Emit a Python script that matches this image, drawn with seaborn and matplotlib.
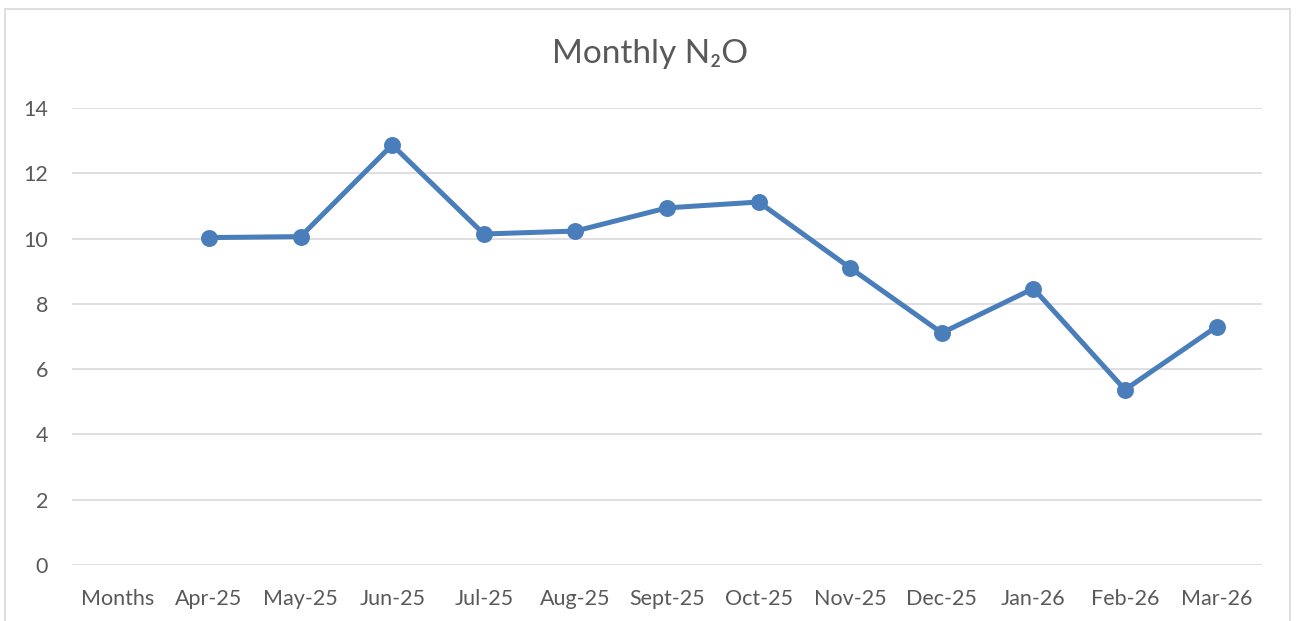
import matplotlib
matplotlib.use("Agg")
import matplotlib.pyplot as plt
from matplotlib.patches import Rectangle
import numpy as np
import pandas as pd
import seaborn as sns

categories = ["Months", "Apr-25", "May-25", "Jun-25", "Jul-25", "Aug-25", "Sept-25",
              "Oct-25", "Nov-25", "Dec-25", "Jan-26", "Feb-26", "Mar-26"]
values = [np.nan, 10.03, 10.06, 12.87, 10.14, 10.23, 10.94, 11.12, 9.10, 7.11, 8.47, 5.37, 7.30]
y_ticks = [0, 2, 4, 6, 8, 10, 12, 14]
title = "Monthly N\u2082O"

df = pd.DataFrame({"month": categories, "value": values})

sns.set_theme(style="white")
plt.rcParams["font.family"] = ["Lato", "DejaVu Sans"]

W, H = 1298, 621
fig = plt.figure(figsize=(W / 100, H / 100), dpi=100)
ax = fig.add_axes([71.6 / W, 1 - 565 / H, (1262.4 - 71.6) / W, (565 - 108) / H])

sns.pointplot(data=df, x="month", y="value", order=categories, errorbar=None,
              color="#4A7EBB", markers="o", linewidth=3.6, markersize=9.5, ax=ax)

ax.set_xlim(-0.5, len(categories) - 0.5)
ax.set_ylim(0, 14)
ax.set_yticks(y_ticks)
ax.set_yticklabels([str(t) for t in y_ticks])
ax.yaxis.grid(True, color="#D9D9D9", linewidth=1.2)
ax.set_axisbelow(True)
for s in ax.spines.values():
    s.set_visible(False)
ax.set_xlabel("")
ax.set_ylabel("")
ax.tick_params(axis="both", length=0, labelsize=15.5, colors="#595959")
ax.tick_params(axis="x", pad=17)
ax.tick_params(axis="y", pad=17)

fig.text(650 / W, 1 - 54 / H, title, ha="center", va="center", fontsize=24, color="#595959")

fig.patches.append(Rectangle((5 / W, -0.1), (1290 - 5) / W, 1.1 - 9 / H,
                             transform=fig.transFigure, fill=False,
                             edgecolor="#D9D9D9", linewidth=1.2))

fig.savefig("out.png", dpi=100)
